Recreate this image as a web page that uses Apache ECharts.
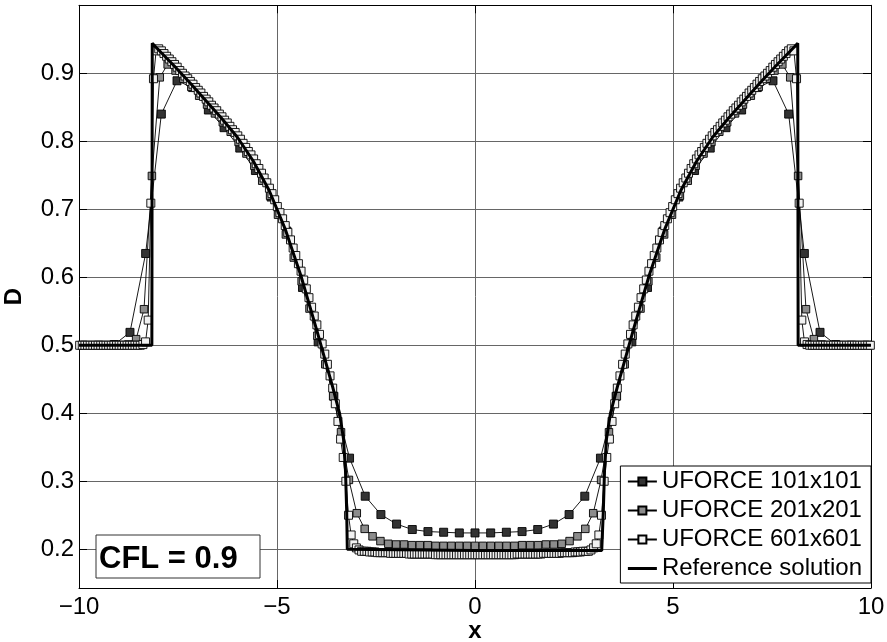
<!DOCTYPE html>
<html>
<head>
<meta charset="utf-8">
<script src="https://cdn.jsdelivr.net/npm/echarts@6/dist/echarts.min.js"></script>
<style>
html, body { margin: 0; padding: 0; background: #fff; }
#chart { width: 887px; height: 642px; }
</style>
</head>
<body>
<div id="chart"></div>
<script>
// Cell widths of the three meshes on [-20, 20]; cells are centred on x = 0.
const dx101 = 40 / 101;
const dx201 = 40 / 201;
const dx601 = 40 / 601;

const xTicks = [-10, -5, 0, 5, 10];
const yTicks = [0.2, 0.3, 0.4, 0.5, 0.6, 0.7, 0.8, 0.9];

// Density D along y = 0, cell centres from left to right.
const d101 = [
  0.500, 0.500, 0.501, 0.519, 0.635, 0.840, 0.889, 0.879, 0.846, 0.820,
  0.790, 0.757, 0.718, 0.668, 0.585, 0.505, 0.425, 0.334, 0.278, 0.251,
  0.237, 0.229, 0.226, 0.225, 0.224,
  0.224,
  0.224, 0.225, 0.226, 0.229, 0.237, 0.251, 0.278, 0.334, 0.425, 0.505,
  0.585, 0.668, 0.718, 0.757, 0.790, 0.820, 0.846, 0.879, 0.889, 0.840,
  0.635, 0.519, 0.501, 0.500, 0.500
];

const d201 = [
  0.500, 0.500, 0.500, 0.500, 0.500, 0.500, 0.501, 0.509, 0.553, 0.749,
  0.894, 0.913, 0.904, 0.892, 0.880, 0.867, 0.854, 0.841, 0.828, 0.814,
  0.799, 0.782, 0.764, 0.742, 0.720, 0.692, 0.663, 0.629, 0.594, 0.554,
  0.514, 0.472, 0.425, 0.372, 0.302, 0.253, 0.230, 0.219, 0.212, 0.208,
  0.207, 0.207, 0.206, 0.206, 0.206, 0.205, 0.205, 0.205, 0.205, 0.205,
  0.205,
  0.205, 0.205, 0.205, 0.205, 0.205, 0.206, 0.206, 0.206, 0.207, 0.207,
  0.208, 0.212, 0.219, 0.230, 0.253, 0.302, 0.372, 0.425, 0.472, 0.514,
  0.554, 0.594, 0.629, 0.663, 0.692, 0.720, 0.742, 0.764, 0.782, 0.799,
  0.814, 0.828, 0.841, 0.854, 0.867, 0.880, 0.892, 0.904, 0.913, 0.894,
  0.749, 0.553, 0.509, 0.501, 0.500, 0.500, 0.500, 0.500, 0.500, 0.500
];

const d601 = [
  0.500, 0.500, 0.500, 0.500, 0.500, 0.500, 0.500, 0.500, 0.500, 0.500,
  0.500, 0.500, 0.500, 0.500, 0.500, 0.500, 0.500, 0.500, 0.500, 0.500,
  0.500, 0.500, 0.500, 0.500,
  0.501, 0.505, 0.537, 0.709, 0.892, 0.933, 0.936, 0.933, 0.929, 0.925,
  0.921, 0.917, 0.913, 0.909, 0.904, 0.900, 0.896, 0.892, 0.888, 0.884,
  0.879, 0.875, 0.871, 0.866, 0.862, 0.858, 0.853, 0.849, 0.845, 0.840,
  0.836, 0.831, 0.827, 0.822, 0.817, 0.813, 0.808, 0.803, 0.797, 0.791,
  0.785, 0.780, 0.774, 0.767, 0.760, 0.753, 0.746, 0.739, 0.731, 0.723,
  0.714, 0.704, 0.695, 0.686, 0.676, 0.666, 0.655, 0.643, 0.632, 0.620,
  0.609, 0.596, 0.583, 0.570, 0.556, 0.543, 0.530, 0.516, 0.502, 0.487,
  0.472, 0.455, 0.437, 0.414, 0.388, 0.362, 0.335, 0.300, 0.250, 0.221,
  0.208, 0.202, 0.199,
  0.197, 0.197, 0.197, 0.196, 0.196, 0.196, 0.195, 0.195, 0.195, 0.195,
  0.195, 0.194, 0.194, 0.194, 0.194, 0.194, 0.194, 0.194, 0.193, 0.193,
  0.193, 0.193, 0.193, 0.193, 0.193, 0.193, 0.193, 0.193, 0.192, 0.192,
  0.192, 0.192, 0.192, 0.192, 0.192, 0.192, 0.192, 0.192, 0.192, 0.192,
  0.192, 0.192, 0.192,
  0.192,
  0.192, 0.192, 0.192, 0.192, 0.192, 0.192, 0.192, 0.192, 0.192, 0.192,
  0.192, 0.192, 0.192, 0.192, 0.192, 0.193, 0.193, 0.193, 0.193, 0.193,
  0.193, 0.193, 0.193, 0.193, 0.193, 0.194, 0.194, 0.194, 0.194, 0.194,
  0.194, 0.194, 0.195, 0.195, 0.195, 0.195, 0.195, 0.196, 0.196, 0.196,
  0.197, 0.197, 0.197,
  0.199, 0.202, 0.208, 0.221, 0.250, 0.300, 0.335, 0.362, 0.388, 0.414,
  0.437, 0.455, 0.472, 0.487, 0.502, 0.516, 0.530, 0.543, 0.556, 0.570,
  0.583, 0.596, 0.609, 0.620, 0.632, 0.643, 0.655, 0.666, 0.676, 0.686,
  0.695, 0.704, 0.714, 0.723, 0.731, 0.739, 0.746, 0.753, 0.760, 0.767,
  0.774, 0.780, 0.785, 0.791, 0.797, 0.803, 0.808, 0.813, 0.817, 0.822,
  0.827, 0.831, 0.836, 0.840, 0.845, 0.849, 0.853, 0.858, 0.862, 0.866,
  0.871, 0.875, 0.879, 0.884, 0.888, 0.892, 0.896, 0.900, 0.904, 0.909,
  0.913, 0.917, 0.921, 0.925, 0.929, 0.933, 0.936, 0.933, 0.892, 0.709,
  0.537, 0.505, 0.501,
  0.500, 0.500, 0.500, 0.500, 0.500, 0.500, 0.500, 0.500, 0.500, 0.500,
  0.500, 0.500, 0.500, 0.500, 0.500, 0.500, 0.500, 0.500, 0.500, 0.500,
  0.500, 0.500, 0.500, 0.500
];

// Reference solution sampled along the same line.
const refX = [
  -10, -8.16, -8.15, -8.0, -7.6, -7.2, -6.8, -6.4, -6.0, -5.6, -5.2, -4.8,
  -4.4, -4.0, -3.6, -3.42, -3.32, -3.27, -3.24, -3.225, -3.2, 0,
  3.2, 3.225, 3.24, 3.27, 3.32, 3.42, 3.6, 4.0, 4.4, 4.8, 5.2, 5.6, 6.0,
  6.4, 6.8, 7.2, 7.6, 8.0, 8.15, 8.16, 10
];
const refY = [
  0.500, 0.500, 0.944, 0.935, 0.911, 0.886, 0.860, 0.834, 0.806, 0.771, 0.728, 0.672,
  0.603, 0.523, 0.440, 0.400, 0.362, 0.315, 0.255, 0.200, 0.198, 0.198,
  0.198, 0.200, 0.255, 0.315, 0.362, 0.400, 0.440, 0.523, 0.603, 0.672, 0.728, 0.771, 0.806,
  0.834, 0.860, 0.886, 0.911, 0.935, 0.944, 0.500, 0.500
];

const FONT = '"Liberation Sans", Arial, Helvetica, sans-serif';

function cellPairs(values, dx) {
  const mid = (values.length - 1) / 2;
  return values.map((v, i) => [(i - mid) * dx, v]);
}

function fmtX(v) {
  if (!xTicks.includes(v)) return '';
  return v < 0 ? '\u2212' + Math.abs(v) : String(v);
}
function fmtY(v) {
  const r = Math.round(v * 100) / 100;
  return yTicks.includes(r) ? r.toFixed(1) : '';
}

const chart = echarts.init(document.getElementById('chart'), null, { renderer: 'canvas' });

const tickStyle = { inside: true, length: 8, lineStyle: { color: '#000', width: 1 } };
const boxLine = { show: true, onZero: false, lineStyle: { color: '#000', width: 1 } };
const gridLine = { show: true, lineStyle: { color: '#666', width: 1 } };

function markerSeries(name, values, dx, fill, size) {
  return {
    type: 'line',
    name: name,
    z: 2,
    data: cellPairs(values, dx),
    symbol: 'rect',
    symbolSize: size,
    showAllSymbol: true,
    clip: false,
    lineStyle: { color: '#000', width: 0.9 },
    itemStyle: { color: fill, borderColor: '#000', borderWidth: 0.9 },
    emphasis: { disabled: true },
    animation: false
  };
}

chart.setOption({
  animation: false,
  backgroundColor: '#fff',
  grid: { left: 79, right: 16, top: 5.3, bottom: 54, containLabel: false, outerBoundsMode: 'none' },
  xAxis: [
    {
      type: 'value', min: -10, max: 10, interval: 5, position: 'bottom',
      axisLine: boxLine, axisTick: tickStyle, splitLine: gridLine,
      axisLabel: { formatter: fmtX, color: '#000', fontSize: 24, fontFamily: FONT, margin: 7 },
      name: 'x', nameLocation: 'middle', nameGap: 31, nameMoveOverlap: false,
      nameTextStyle: { color: '#000', fontSize: 24, fontWeight: 'bold', fontFamily: FONT }
    },
    {
      type: 'value', min: -10, max: 10, interval: 5, position: 'top',
      axisLine: boxLine, axisTick: tickStyle, splitLine: { show: false },
      axisLabel: { show: false }
    }
  ],
  yAxis: [
    {
      type: 'value', min: 0.143, max: 1.0, splitNumber: 8, position: 'left',
      axisLine: boxLine, axisTick: tickStyle, splitLine: gridLine,
      axisLabel: {
        formatter: fmtY, color: '#000', fontSize: 24, fontFamily: FONT, margin: 5,
        showMinLabel: false, showMaxLabel: false
      },
      name: 'D', nameLocation: 'middle', nameGap: 53, nameRotate: 90,
      nameTextStyle: { color: '#000', fontSize: 24, fontWeight: 'bold', fontFamily: FONT }
    },
    {
      type: 'value', min: 0.143, max: 1.0, splitNumber: 8, position: 'right',
      axisLine: boxLine, axisTick: tickStyle, splitLine: { show: false },
      axisLabel: { show: false }
    }
  ],
  legend: {
    orient: 'vertical', right: 16, bottom: 59,
    itemWidth: 29, itemHeight: 10, itemGap: 0,
    padding: [1, 9, 0, 6],
    borderColor: '#000', borderWidth: 1, backgroundColor: '#fff',
    textStyle: { color: '#000', fontSize: 24, fontFamily: FONT, lineHeight: 29 },
    data: [
      'UFORCE 101x101',
      'UFORCE 201x201',
      'UFORCE 601x601',
      { name: 'Reference solution', itemStyle: { opacity: 0 }, lineStyle: { width: 3, color: '#000' } }
    ]
  },
  graphic: [
    {
      type: 'rect', z: 100,
      shape: { x: 96, y: 535, width: 164, height: 43 },
      style: { fill: '#fff', stroke: '#333', lineWidth: 1 }
    },
    {
      type: 'text', z: 101, x: 99, y: 559,
      style: { text: 'CFL = 0.9', fill: '#000', font: 'bold 31px ' + FONT, verticalAlign: 'middle' }
    }
  ],
  series: [
    markerSeries('UFORCE 101x101', d101, dx101, '#333333', 8),
    markerSeries('UFORCE 201x201', d201, dx201, '#8c8c8c', 7.5),
    markerSeries('UFORCE 601x601', d601, dx601, '#f2f2f2', 8),
    {
      type: 'line',
      name: 'Reference solution',
      z: 5,
      data: refX.map((x, i) => [x, refY[i]]),
      symbol: 'none',
      lineStyle: { color: '#000', width: 3 },
      emphasis: { disabled: true },
      animation: false
    }
  ]
});
</script>
</body>
</html>
